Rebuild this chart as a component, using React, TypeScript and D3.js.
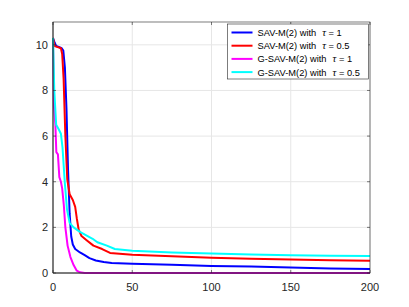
import * as React from "react";
import * as d3 from "d3";

type Pt = [number, number];

// SAV-M(2), tau = 1
const blueSeries: Pt[] = [
  [0, 10.3], [1, 10.1], [2, 9.95], [4, 9.9], [5.5, 9.85], [6.5, 9.75], [7.5, 9.0], [8.5, 7.2],
  [9.5, 4.5], [10.5, 2.6], [11.5, 1.6], [12.5, 1.25], [14, 1.05], [17, 0.9], [20, 0.78],
  [23, 0.65], [27, 0.55], [32, 0.48], [37, 0.44], [50, 0.41], [75, 0.36], [100, 0.31],
  [125, 0.28], [150, 0.24], [175, 0.2], [200, 0.17],
];

// SAV-M(2), tau = 0.5
const redSeries: Pt[] = [
  [0, 10.3], [1, 9.95], [3, 9.9], [5, 9.85], [5.8, 9.6], [6.7, 8.5], [7.8, 6.0], [9, 4.1],
  [10.5, 3.45], [12.5, 3.2], [14, 2.9], [15, 2.4], [16.2, 1.9], [18, 1.62], [21, 1.45],
  [25.5, 1.2], [31, 1.05], [36, 0.88], [44, 0.83], [50, 0.8], [75, 0.73], [100, 0.67],
  [125, 0.62], [150, 0.59], [175, 0.56], [200, 0.54],
];

// G-SAV-M(2), tau = 1
const magentaSeries: Pt[] = [
  [0, 10.3], [0.6, 7.3], [1.5, 6.5], [2.1, 5.3], [3.1, 5.2], [4, 4.2], [5, 4.0], [5.8, 3.7],
  [6.8, 3.0], [7.8, 2.0], [9.2, 1.2], [11, 0.7], [13, 0.35], [15, 0.1], [17, 0.03],
  [20, 0.0], [50, 0.0], [100, 0.0], [150, 0.0], [200, 0.0],
];

// G-SAV-M(2), tau = 0.5
const cyanSeries: Pt[] = [
  [0, 10.3], [0.8, 8.0], [2, 6.5], [3.6, 6.3], [5, 6.1], [6, 5.5], [7.4, 4.0], [8.8, 2.8],
  [10.5, 2.2], [13, 2.0], [17, 1.8], [21, 1.65], [25, 1.5], [28, 1.35], [34, 1.2],
  [39, 1.05], [50, 0.97], [75, 0.9], [100, 0.85], [125, 0.81], [150, 0.78], [175, 0.76],
  [200, 0.74],
];

const seriesNames = ["SAV-M(2) with", "SAV-M(2) with", "G-SAV-M(2) with", "G-SAV-M(2) with"];
const tauValues = ["1", "0.5", "1", "0.5"];
const seriesColors = ["#0000ff", "#ff0000", "#ff00ff", "#00ffff"];
const allSeries = [blueSeries, redSeries, magentaSeries, cyanSeries];

const xTicks = [0, 50, 100, 150, 200];
const yTicks = [0, 2, 4, 6, 8, 10];

export default function App() {
  const W = 409;
  const H = 307;
  const left = 53;
  const right = 370;
  const top = 22;
  const bottom = 273;

  const x = d3.scaleLinear().domain([0, 200]).range([left, right]);
  const y = d3.scaleLinear().domain([0, 11]).range([bottom, top]);

  const line = d3
    .line<Pt>()
    .x((d) => x(d[0]))
    .y((d) => y(d[1]));

  const font = "'Liberation Sans', Arial, sans-serif";
  const tickColor = "#262626";

  // legend geometry
  const lgX = 227.5;
  const lgY = 24;
  const lgW = 141;
  const lgH = 55;
  const rowY = (i: number) => lgY + 8.5 + i * 13.2;

  return (
    <svg
      width={W}
      height={H}
      style={{ position: "absolute", left: 0, top: 0, background: "#fff" }}
      fontFamily={font}
    >
      <rect x={0} y={0} width={W} height={H} fill="#fff" />
      <rect x={left} y={top} width={right - left} height={bottom - top} fill="#fff" />

      {/* grid */}
      {xTicks.map((t) => (
        <line key={"gx" + t} x1={x(t)} x2={x(t)} y1={top} y2={bottom} stroke="#e6e6e6" strokeWidth={1} />
      ))}
      {yTicks.map((t) => (
        <line key={"gy" + t} x1={left} x2={right} y1={y(t)} y2={y(t)} stroke="#e6e6e6" strokeWidth={1} />
      ))}

      {/* data lines */}
      {allSeries.map((s, i) => (
        <path
          key={"s" + i}
          d={line(s) ?? ""}
          fill="none"
          stroke={seriesColors[i]}
          strokeWidth={2}
          strokeLinejoin="round"
        />
      ))}

      {/* axes box */}
      <rect x={left} y={top} width={right - left} height={bottom - top} fill="none" stroke="#262626" strokeWidth={0.6} />
      <line x1={left} x2={left} y1={top} y2={bottom} stroke={tickColor} strokeWidth={0.8} />
      <line x1={left} x2={right} y1={bottom} y2={bottom} stroke={tickColor} strokeWidth={0.8} />

      {/* ticks */}
      {xTicks.map((t) => (
        <g key={"xt" + t}>
          <line x1={x(t)} x2={x(t)} y1={bottom} y2={bottom - 3} stroke={tickColor} strokeWidth={0.6} />
          <line x1={x(t)} x2={x(t)} y1={top} y2={top + 3} stroke={tickColor} strokeWidth={0.6} />
          <text x={x(t)} y={bottom + 18} textAnchor="middle" fontSize={11} fill={tickColor}>
            {t}
          </text>
        </g>
      ))}
      {yTicks.map((t) => (
        <g key={"yt" + t}>
          <line x1={left} x2={left + 3} y1={y(t)} y2={y(t)} stroke={tickColor} strokeWidth={0.6} />
          <line x1={right} x2={right - 3} y1={y(t)} y2={y(t)} stroke={tickColor} strokeWidth={0.6} />
          <text x={left - 5} y={y(t) + 4} textAnchor="end" fontSize={11} fill={tickColor}>
            {t}
          </text>
        </g>
      ))}

      {/* legend */}
      <rect x={lgX} y={lgY} width={lgW} height={lgH} fill="#fff" stroke="#262626" strokeWidth={0.6} />
      {seriesNames.map((name, i) => (
        <g key={"lg" + i}>
          <line x1={lgX + 4} x2={lgX + 25} y1={rowY(i)} y2={rowY(i)} stroke={seriesColors[i]} strokeWidth={2} />
          <text x={lgX + 30} y={rowY(i) + 3.5} fontSize={9.3} fill="#000">
            {name}
            <tspan dx={6} fontFamily="'Liberation Serif', 'DejaVu Serif', serif" fontStyle="italic" fontSize={10.5}>
              {"\u03c4"}
            </tspan>
            {" = " + tauValues[i]}
          </text>
        </g>
      ))}
    </svg>
  );
}
